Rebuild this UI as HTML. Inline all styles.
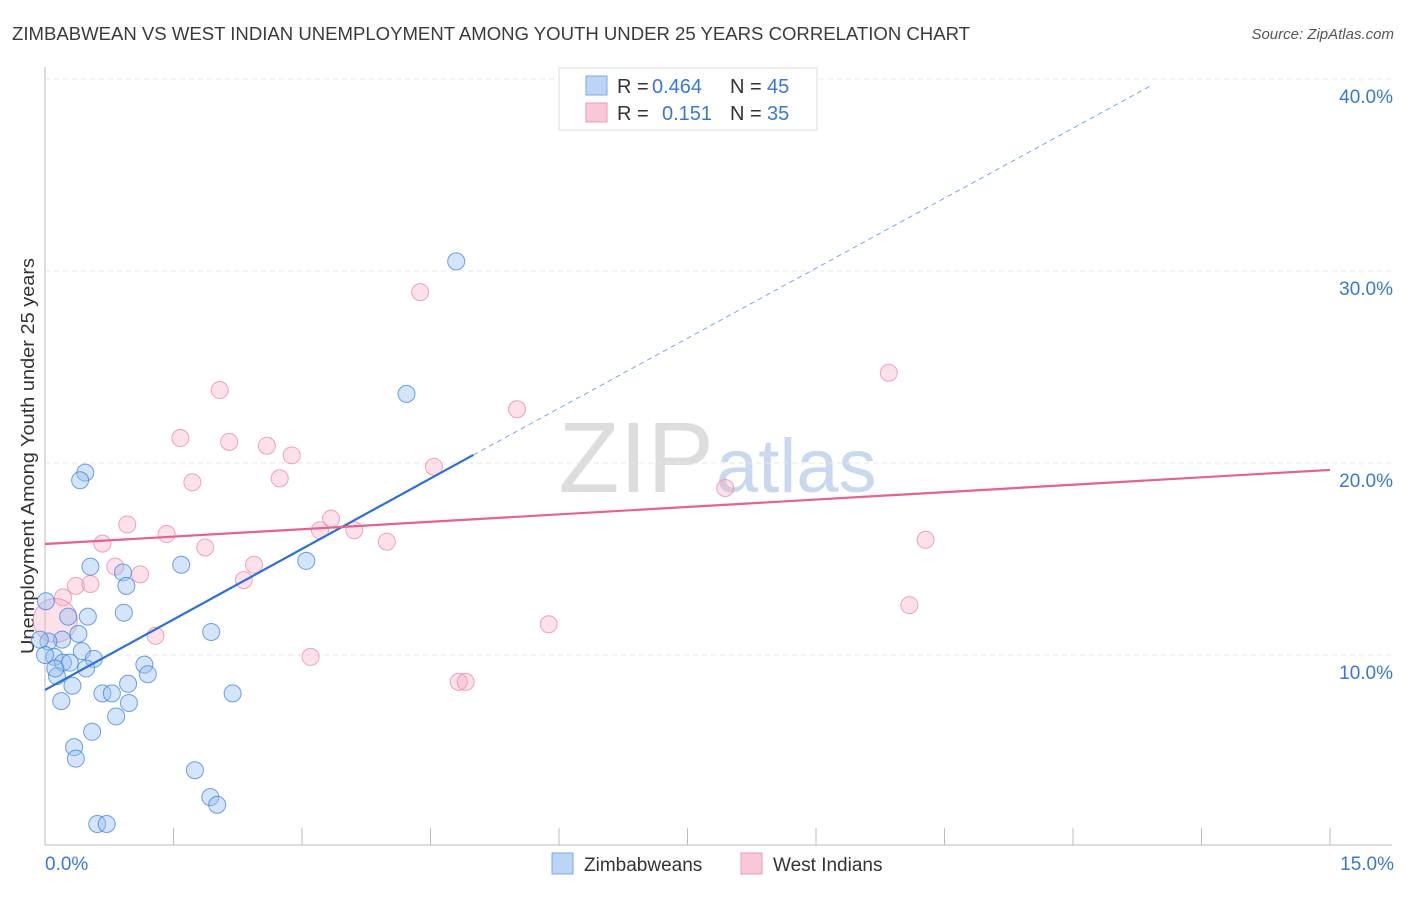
<!DOCTYPE html>
<html><head><meta charset="utf-8"><style>
body{margin:0;background:#fff;font-family:"Liberation Sans",sans-serif;}
svg text{font-family:"Liberation Sans",sans-serif;}
</style></head><body>
<svg id="c" width="1406" height="892">
<text x="12" y="40" font-size="18" fill="#3a3a3a" textLength="958" lengthAdjust="spacingAndGlyphs">ZIMBABWEAN VS WEST INDIAN UNEMPLOYMENT AMONG YOUTH UNDER 25 YEARS CORRELATION CHART</text>
<text x="1394" y="39" font-size="15" fill="#555" text-anchor="end" font-style="italic">Source: ZipAtlas.com</text>
<text x="0" y="0" font-size="18" fill="#333" text-anchor="middle" textLength="396" lengthAdjust="spacingAndGlyphs" transform="translate(34,456) rotate(-90)">Unemployment Among Youth under 25 years</text>
<text x="714" y="492" font-size="100" fill="#ddd" text-anchor="end" font-family="Liberation Serif">ZIP</text>
<text x="716" y="492" font-size="76" fill="#c8d8ee">atlas</text>
<g id="grid"></g><g id="marks"></g>
<g>
<rect x="559" y="68" width="258" height="62" fill="#fff" stroke="#ddd"/>
<rect x="586" y="76" width="21" height="19" fill="#bcd4f5" stroke="#7aa7e6"/>
<rect x="586" y="103" width="21" height="19" fill="#f8c8d8" stroke="#ec9ab6"/>
<text x="617" y="93" font-size="20" fill="#333">R =</text>
<text x="652" y="93" font-size="20" fill="#3a78d0">0.464</text>
<text x="730" y="93" font-size="20" fill="#333">N =</text>
<text x="767" y="93" font-size="20" fill="#3a78d0">45</text>
<text x="617" y="120" font-size="20" fill="#333">R =</text>
<text x="662" y="120" font-size="20" fill="#3a78d0">0.151</text>
<text x="730" y="120" font-size="20" fill="#333">N =</text>
<text x="767" y="120" font-size="20" fill="#3a78d0">35</text>
</g>
<g>
<rect x="552" y="853" width="21" height="21" fill="#bcd4f5" stroke="#7aa7e6"/>
<text x="584" y="871" font-size="19" fill="#333">Zimbabweans</text>
<rect x="741" y="853" width="21" height="21" fill="#f8c8d8" stroke="#ec9ab6"/>
<text x="773" y="871" font-size="19" fill="#333">West Indians</text>
</g>
</svg>
<script>
const xTicks=[0,1.5,3,4.5,6,7.5,9,10.5,12,13.5,15];
const yTicks=[10,20,30,40];
const zimX=[4.8,4.22,0.47,0.41,0.53,0.91,0.95,1.59,3.05,0.01,0.27,0.5,0.92,0.39,0.2,0.04,1.94,0.43,0.11,0.21,0.29,0.57,0.48,1.16,1.2,0.14,0.32,0.97,0.67,0.78,2.19,0.19,0.98,0.83,0.55,0.34,0.36,1.75,1.93,2.01,0.61,0.72,0,0.12,-0.06];
const zimY=[30.5,23.6,19.5,19.1,14.6,14.3,13.6,14.7,14.9,12.8,12.0,12.0,12.2,11.1,10.8,10.7,11.2,10.2,9.9,9.6,9.6,9.8,9.3,9.5,9.0,8.9,8.4,8.5,8.0,8.0,8.0,7.6,7.5,6.8,6.0,5.2,4.6,4.0,2.6,2.2,1.2,1.2,10.0,9.3,10.8];
const wiX=[4.38,9.85,2.04,5.51,1.58,2.15,2.59,2.88,4.54,1.72,2.74,7.94,0.96,3.34,1.42,3.21,3.61,0.67,1.87,3.99,10.28,0.82,2.44,1.11,2.32,0.36,0.53,0.21,10.09,5.88,1.29,3.1,4.83,4.91,0.12];
const wiY=[28.9,24.7,23.8,22.8,21.3,21.1,20.9,20.4,19.8,19.0,19.2,18.7,16.8,17.1,16.3,16.5,16.5,15.8,15.6,15.9,16.0,14.6,14.7,14.2,13.9,13.6,13.7,13.0,12.6,11.6,11.0,9.9,8.6,8.6,11.8];
const zimTrend=[[0,8.18],[5,20.42],[12.93,39.7]];
const wiTrend=[[0,15.78],[15,19.64]];
const X=v=>45+v/15*1285, Y=v=>847-v*19.2;
const NS='http://www.w3.org/2000/svg';
const mk=(t,a,p)=>{const e=document.createElementNS(NS,t);for(const k in a)e.setAttribute(k,a[k]);p.appendChild(e);return e;};
const g=document.getElementById('grid'), m=document.getElementById('marks');
let ax=mk('line',{x1:45,y1:67,x2:45,y2:845,stroke:'#bbb'},g);


let bx=mk('line',{x1:45,y1:845,x2:1392,y2:845,stroke:'#bbb'},g);


yTicks.forEach(v=>{
 let l=mk('line',{x1:45,x2:1392,y1:Y(v),y2:Y(v),stroke:'#e6e6e6','stroke-dasharray':'5,4'},g);
 
 
 let t=mk('text',{x:1393,y:Y(v)+24,'font-size':19,fill:'#3a78d0','text-anchor':'end'},g);t.textContent=v.toFixed(1)+'%';
 
 
});
xTicks.forEach((v,i)=>{
 if(i>0){let l=mk('line',{x1:X(v),x2:X(v),y1:828,y2:845,stroke:'#bbb'},g);
 
 }
});
[[0,'start',45],[15,'end',1394]].forEach(([v,a,x])=>{
 let t=mk('text',{x:x,y:870,'font-size':19,fill:'#3a78d0','text-anchor':a},g);t.textContent=v.toFixed(1)+'%';
 
 
});
wiX.forEach((v,i)=>{
 const big=i===wiX.length-1;
 let c=mk('circle',{cx:X(v),cy:Y(wiY[i]),r:big?22:8.5,fill:'rgba(246,170,196,0.35)',stroke:'rgba(236,140,175,0.8)','stroke-width':1},m);
 
 
});
zimX.forEach((v,i)=>{
 let c=mk('circle',{cx:X(v),cy:Y(zimY[i]),r:8.5,fill:'rgba(150,190,240,0.4)',stroke:'rgba(60,130,220,0.75)','stroke-width':1},m);
 
 
});
let l1=mk('line',{x1:X(zimTrend[0][0]),y1:Y(zimTrend[0][1]),x2:X(zimTrend[1][0]),y2:Y(zimTrend[1][1]),stroke:'#2a70d8','stroke-width':2.2},m);


let l2=mk('line',{x1:X(zimTrend[1][0]),y1:Y(zimTrend[1][1]),x2:X(zimTrend[2][0]),y2:Y(zimTrend[2][1]),stroke:'#7aa7e6','stroke-width':1,'stroke-dasharray':'5,4'},m);


let l3=mk('line',{x1:X(wiTrend[0][0]),y1:Y(wiTrend[0][1]),x2:X(wiTrend[1][0]),y2:Y(wiTrend[1][1]),stroke:'#e8608f','stroke-width':2.2},m);


</script>
</body></html>
